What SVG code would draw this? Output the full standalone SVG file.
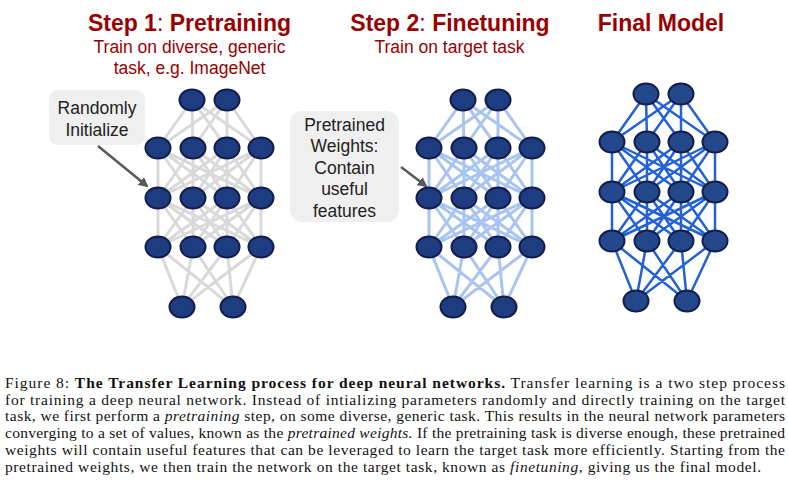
<svg xmlns="http://www.w3.org/2000/svg" width="788" height="492" viewBox="0 0 788 492">
<defs>
<style>
.title{font-family:"Liberation Sans",Arial,sans-serif;font-size:23px;font-weight:bold;fill:#990000;text-anchor:middle}
.sub{font-family:"Liberation Sans",Arial,sans-serif;font-size:17.5px;fill:#990000;text-anchor:middle}
.call{font-family:"Liberation Sans",Arial,sans-serif;font-size:17.5px;fill:#222;text-anchor:middle}
.box{fill:#efefef}
.cap{font-family:"Liberation Serif","Times New Roman",serif;font-size:15.5px;fill:#111}
.n{fill:#1e3c80;stroke:#131d4c;stroke-width:2}
.n3{fill:#22478a;stroke:#131d4c;stroke-width:2}
.e1{fill:none;stroke:#d9d9d9;stroke-width:3}
.e2{fill:none;stroke:#a8c4f2;stroke-width:3}
.e3{fill:none;stroke:#2262d6;stroke-width:2.5}
.arr{stroke:#595959;stroke-width:2.5;fill:none;marker-end:url(#ah)}
</style>
<marker id="ah" viewBox="0 0 10 10" refX="8" refY="5" markerWidth="4" markerHeight="4" orient="auto"><path d="M0 0L10 5L0 10z" fill="#595959"/></marker>
</defs>
<rect width="788" height="492" fill="#fff"/>

<g id="titles">
<text class="title" x="189.5" y="31">Step 1<tspan font-weight="normal">:</tspan> Pretraining</text>
<text class="sub" x="189.5" y="53">Train on diverse, generic</text>
<text class="sub" x="189.5" y="74">task, e.g. ImageNet</text>
<text class="title" x="450" y="31">Step 2<tspan font-weight="normal">:</tspan> Finetuning</text>
<text class="sub" x="449.5" y="53">Train on target task</text>
<text class="title" x="661" y="31">Final Model</text>
</g>

<g id="connectors">
<path id="net1-edges" class="e1" d="M192 100L158 148M192 100L193 148M192 100L227 148M192 100L261 148M227 100L158 148M227 100L193 148M227 100L227 148M227 100L261 148
M158 148L158 198M158 148L193 198M158 148L227 198M158 148L261 198M193 148L158 198M193 148L193 198M193 148L227 198M193 148L261 198M227 148L158 198M227 148L193 198M227 148L227 198M227 148L261 198M261 148L158 198M261 148L193 198M261 148L227 198M261 148L261 198
M158 198L158 247M158 198L193 247M158 198L227 247M158 198L261 247M193 198L158 247M193 198L193 247M193 198L227 247M193 198L261 247M227 198L158 247M227 198L193 247M227 198L227 247M227 198L261 247M261 198L158 247M261 198L193 247M261 198L227 247M261 198L261 247
M158 247L182 307M158 247L233 307M193 247L182 307M193 247L233 307M227 247L182 307M227 247L233 307M261 247L182 307M261 247L233 307"/>
<path id="net2-edges" class="e2" transform="translate(271,0)" d="M192 100L158 148M192 100L193 148M192 100L227 148M192 100L261 148M227 100L158 148M227 100L193 148M227 100L227 148M227 100L261 148
M158 148L158 198M158 148L193 198M158 148L227 198M158 148L261 198M193 148L158 198M193 148L193 198M193 148L227 198M193 148L261 198M227 148L158 198M227 148L193 198M227 148L227 198M227 148L261 198M261 148L158 198M261 148L193 198M261 148L227 198M261 148L261 198
M158 198L158 247M158 198L193 247M158 198L227 247M158 198L261 247M193 198L158 247M193 198L193 247M193 198L227 247M193 198L261 247M227 198L158 247M227 198L193 247M227 198L227 247M227 198L261 247M261 198L158 247M261 198L193 247M261 198L227 247M261 198L261 247
M158 247L182 307M158 247L233 307M193 247L182 307M193 247L233 307M227 247L182 307M227 247L233 307M261 247L182 307M261 247L233 307"/>
<path id="net3-edges" class="e3" transform="translate(454,-6)" d="M192 100L158 148M192 100L193 148M192 100L227 148M192 100L261 148M227 100L158 148M227 100L193 148M227 100L227 148M227 100L261 148
M158 148L158 198M158 148L193 198M158 148L227 198M158 148L261 198M193 148L158 198M193 148L193 198M193 148L227 198M193 148L261 198M227 148L158 198M227 148L193 198M227 148L227 198M227 148L261 198M261 148L158 198M261 148L193 198M261 148L227 198M261 148L261 198
M158 198L158 247M158 198L193 247M158 198L227 247M158 198L261 247M193 198L158 247M193 198L193 247M193 198L227 247M193 198L261 247M227 198L158 247M227 198L193 247M227 198L227 247M227 198L261 247M261 198L158 247M261 198L193 247M261 198L227 247M261 198L261 247
M158 247L182 307M158 247L233 307M193 247L182 307M193 247L233 307M227 247L182 307M227 247L233 307M261 247L182 307M261 247L233 307"/>
<path id="arrow-random" class="arr" d="M98 146L147 186"/>
<path id="arrow-pretrained" class="arr" d="M401 167L426 186"/>
</g>

<g id="net1">
<g id="n1-1-1"><ellipse class="n" cx="192" cy="100" rx="12.5" ry="10.5"/></g>
<g id="n1-1-2"><ellipse class="n" cx="227" cy="100" rx="12.5" ry="10.5"/></g>
<g id="n1-2-1"><ellipse class="n" cx="158" cy="148" rx="12.5" ry="10.5"/></g>
<g id="n1-2-2"><ellipse class="n" cx="193" cy="148" rx="12.5" ry="10.5"/></g>
<g id="n1-2-3"><ellipse class="n" cx="227" cy="148" rx="12.5" ry="10.5"/></g>
<g id="n1-2-4"><ellipse class="n" cx="261" cy="148" rx="12.5" ry="10.5"/></g>
<g id="n1-3-1"><ellipse class="n" cx="158" cy="198" rx="12.5" ry="10.5"/></g>
<g id="n1-3-2"><ellipse class="n" cx="193" cy="198" rx="12.5" ry="10.5"/></g>
<g id="n1-3-3"><ellipse class="n" cx="227" cy="198" rx="12.5" ry="10.5"/></g>
<g id="n1-3-4"><ellipse class="n" cx="261" cy="198" rx="12.5" ry="10.5"/></g>
<g id="n1-4-1"><ellipse class="n" cx="158" cy="247" rx="12.5" ry="10.5"/></g>
<g id="n1-4-2"><ellipse class="n" cx="193" cy="247" rx="12.5" ry="10.5"/></g>
<g id="n1-4-3"><ellipse class="n" cx="227" cy="247" rx="12.5" ry="10.5"/></g>
<g id="n1-4-4"><ellipse class="n" cx="261" cy="247" rx="12.5" ry="10.5"/></g>
<g id="n1-5-1"><ellipse class="n" cx="182" cy="307" rx="12.5" ry="10.5"/></g>
<g id="n1-5-2"><ellipse class="n" cx="233" cy="307" rx="12.5" ry="10.5"/></g>
</g>

<g id="net2" transform="translate(271,0)">
<g id="n2-1-1"><ellipse class="n" cx="192" cy="100" rx="12.5" ry="10.5"/></g>
<g id="n2-1-2"><ellipse class="n" cx="227" cy="100" rx="12.5" ry="10.5"/></g>
<g id="n2-2-1"><ellipse class="n" cx="158" cy="148" rx="12.5" ry="10.5"/></g>
<g id="n2-2-2"><ellipse class="n" cx="193" cy="148" rx="12.5" ry="10.5"/></g>
<g id="n2-2-3"><ellipse class="n" cx="227" cy="148" rx="12.5" ry="10.5"/></g>
<g id="n2-2-4"><ellipse class="n" cx="261" cy="148" rx="12.5" ry="10.5"/></g>
<g id="n2-3-1"><ellipse class="n" cx="158" cy="198" rx="12.5" ry="10.5"/></g>
<g id="n2-3-2"><ellipse class="n" cx="193" cy="198" rx="12.5" ry="10.5"/></g>
<g id="n2-3-3"><ellipse class="n" cx="227" cy="198" rx="12.5" ry="10.5"/></g>
<g id="n2-3-4"><ellipse class="n" cx="261" cy="198" rx="12.5" ry="10.5"/></g>
<g id="n2-4-1"><ellipse class="n" cx="158" cy="247" rx="12.5" ry="10.5"/></g>
<g id="n2-4-2"><ellipse class="n" cx="193" cy="247" rx="12.5" ry="10.5"/></g>
<g id="n2-4-3"><ellipse class="n" cx="227" cy="247" rx="12.5" ry="10.5"/></g>
<g id="n2-4-4"><ellipse class="n" cx="261" cy="247" rx="12.5" ry="10.5"/></g>
<g id="n2-5-1"><ellipse class="n" cx="182" cy="307" rx="12.5" ry="10.5"/></g>
<g id="n2-5-2"><ellipse class="n" cx="233" cy="307" rx="12.5" ry="10.5"/></g>
</g>

<g id="net3" transform="translate(454,-6)">
<g id="n3-1-1"><ellipse class="n3" cx="192" cy="100" rx="12.5" ry="10.5"/></g>
<g id="n3-1-2"><ellipse class="n3" cx="227" cy="100" rx="12.5" ry="10.5"/></g>
<g id="n3-2-1"><ellipse class="n3" cx="158" cy="148" rx="12.5" ry="10.5"/></g>
<g id="n3-2-2"><ellipse class="n3" cx="193" cy="148" rx="12.5" ry="10.5"/></g>
<g id="n3-2-3"><ellipse class="n3" cx="227" cy="148" rx="12.5" ry="10.5"/></g>
<g id="n3-2-4"><ellipse class="n3" cx="261" cy="148" rx="12.5" ry="10.5"/></g>
<g id="n3-3-1"><ellipse class="n3" cx="158" cy="198" rx="12.5" ry="10.5"/></g>
<g id="n3-3-2"><ellipse class="n3" cx="193" cy="198" rx="12.5" ry="10.5"/></g>
<g id="n3-3-3"><ellipse class="n3" cx="227" cy="198" rx="12.5" ry="10.5"/></g>
<g id="n3-3-4"><ellipse class="n3" cx="261" cy="198" rx="12.5" ry="10.5"/></g>
<g id="n3-4-1"><ellipse class="n3" cx="158" cy="247" rx="12.5" ry="10.5"/></g>
<g id="n3-4-2"><ellipse class="n3" cx="193" cy="247" rx="12.5" ry="10.5"/></g>
<g id="n3-4-3"><ellipse class="n3" cx="227" cy="247" rx="12.5" ry="10.5"/></g>
<g id="n3-4-4"><ellipse class="n3" cx="261" cy="247" rx="12.5" ry="10.5"/></g>
<g id="n3-5-1"><ellipse class="n3" cx="182" cy="307" rx="12.5" ry="10.5"/></g>
<g id="n3-5-2"><ellipse class="n3" cx="233" cy="307" rx="12.5" ry="10.5"/></g>
</g>

<g id="callout-random">
<rect class="box" x="49" y="90" width="96" height="55" rx="9"/>
<text class="call" x="97" y="114">Randomly</text>
<text class="call" x="97" y="136">Initialize</text>
</g>

<g id="callout-pretrained">
<rect class="box" x="290" y="111" width="109" height="111" rx="12"/>
<text class="call" x="344.5" y="131">Pretrained</text>
<text class="call" x="344.5" y="152">Weights:</text>
<text class="call" x="344.5" y="174">Contain</text>
<text class="call" x="344.5" y="195">useful</text>
<text class="call" x="344.5" y="217">features</text>
</g>

<g id="caption" class="cap">
<text x="5" y="388" textLength="780" lengthAdjust="spacing">Figure 8: <tspan font-weight="bold">The Transfer Learning process for deep neural networks.</tspan> Transfer learning is a two step process</text>
<text x="5" y="404.7" textLength="780" lengthAdjust="spacing">for training a deep neural network. Instead of intializing parameters randomly and directly training on the target</text>
<text x="5" y="421.4" textLength="780" lengthAdjust="spacing">task, we first perform a <tspan font-style="italic">pretraining</tspan> step, on some diverse, generic task. This results in the neural network parameters</text>
<text x="5" y="438.1" textLength="780" lengthAdjust="spacing">converging to a set of values, known as the <tspan font-style="italic">pretrained weights.</tspan> If the pretraining task is diverse enough, these pretrained</text>
<text x="5" y="454.8" textLength="780" lengthAdjust="spacing">weights will contain useful features that can be leveraged to learn the target task more efficiently. Starting from the</text>
<text x="5" y="471.5" textLength="756" lengthAdjust="spacing">pretrained weights, we then train the network on the target task, known as <tspan font-style="italic">finetuning</tspan>, giving us the final model.</text>
</g>
</svg>
